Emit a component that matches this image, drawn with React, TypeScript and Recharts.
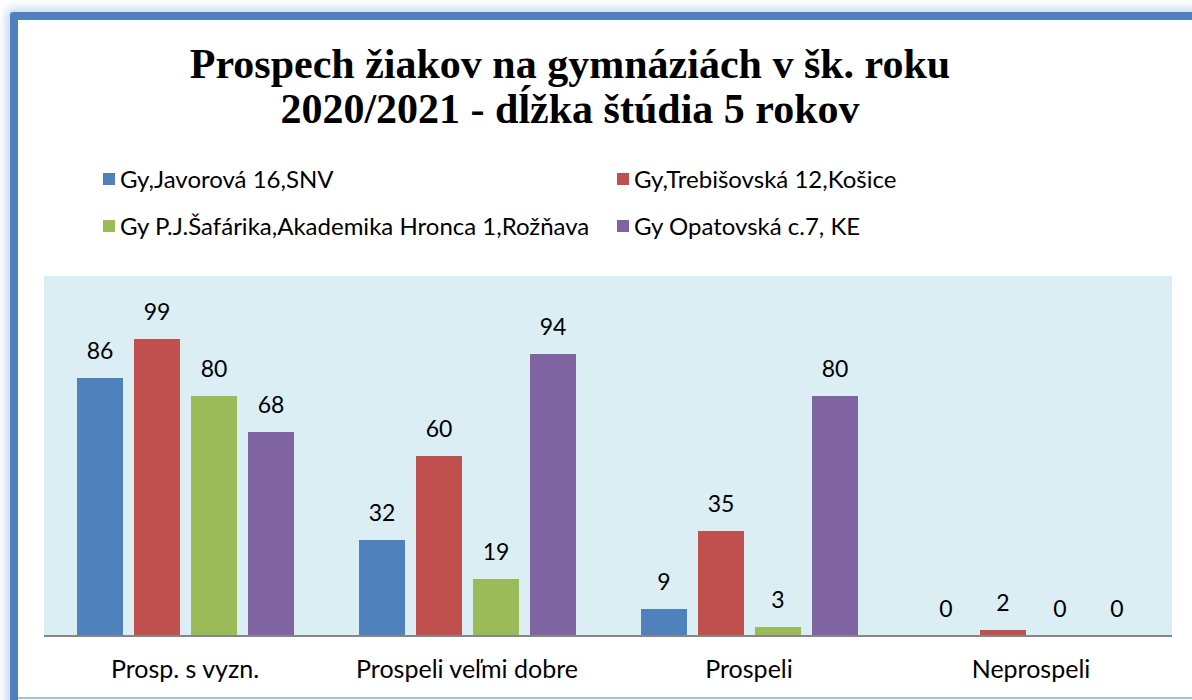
import { Bar, BarChart, LabelList, XAxis, YAxis } from "recharts";

const categories = ["Prosp. s vyzn.", "Prospeli veľmi dobre", "Prospeli", "Neprospeli"];

const javorova = [86, 32, 9, 0];
const trebisovska = [99, 60, 35, 2];
const safarika = [80, 19, 3, 0];
const opatovska = [68, 94, 80, 0];

const seriesNames = [
  "Gy,Javorová 16,SNV",
  "Gy,Trebišovská 12,Košice",
  "Gy P.J.Šafárika,Akademika Hronca 1,Rožňava",
  "Gy Opatovská c.7, KE",
];
const seriesColors = ["#4F81BD", "#C0504D", "#9BBB59", "#8064A2"];
const seriesKeys = ["javorova", "trebisovska", "safarika", "opatovska"];

const data = categories.map((name, i) => ({
  name,
  javorova: javorova[i],
  trebisovska: trebisovska[i],
  safarika: safarika[i],
  opatovska: opatovska[i],
}));

const FONT = "Lato, 'Open Sans', sans-serif";

// zero-height bars get no label otherwise, so give them a hair of height
const tinyForZero = (v: any) => (Number(v) === 0 ? 0.001 : 0);

const valueLabel = (props: any) => {
  const { x, y, width, value } = props;
  return (
    <text
      x={Number(x) + Number(width) / 2}
      y={Number(y) - 19}
      textAnchor="middle"
      fontFamily={FONT}
      fontSize={23}
      fill="#000"
    >
      {value}
    </text>
  );
};

export default function App() {
  return (
    <div style={{ position: "absolute", left: 0, top: 0, width: 1192, height: 700, overflow: "hidden", background: "#fff" }}>
      {/* frame */}
      <div
        style={{
          position: "absolute",
          left: 10,
          top: 12,
          width: 1220,
          height: 720,
          border: "8px solid #4F81BD",
          borderRadius: 3,
          boxShadow: "0 0 10px 4px #C6D9F1",
          boxSizing: "border-box",
        }}
      />
      <div style={{ position: "absolute", left: 18, right: 0, top: 697, height: 2, background: "#A7BFDE" }} />

      <div
        style={{
          position: "absolute",
          left: 0,
          width: 1140,
          top: 42,
          textAlign: "center",
          fontFamily: "'Liberation Serif', 'Times New Roman', serif",
          fontWeight: "bold",
          fontSize: 42,
          lineHeight: "45px",
          color: "#000",
        }}
      >
        Prospech žiakov na gymnáziách v šk. roku
        <br />
        2020/2021 - dĺžka štúdia 5 rokov
      </div>

      {seriesNames.map((n, i) => (
        <div
          key={n}
          style={{
            position: "absolute",
            left: i % 2 === 0 ? 103 : 617,
            top: i < 2 ? 164 : 211,
            display: "flex",
            alignItems: "center",
            fontFamily: FONT,
            fontSize: 24,
            color: "#000",
            whiteSpace: "nowrap",
          }}
        >
          <span style={{ display: "inline-block", width: 12, height: 12, background: seriesColors[i], marginRight: 5 }} />
          {n}
        </div>
      ))}

      <div style={{ position: "absolute", left: 0, top: 0 }}>
        <BarChart
          width={1192}
          height={700}
          data={data}
          margin={{ top: 276, right: 20, bottom: 0, left: 44 }}
          barCategoryGap={33}
          barGap={11}
        >
          <rect x={44} y={276} width={1128} height={360} fill="#DBEEF4" />
          <YAxis hide domain={[0, 120]} />
          <XAxis
            dataKey="name"
            height={64}
            tickLine={false}
            tickSize={0}
            tickMargin={24}
            axisLine={{ stroke: "#868686", strokeWidth: 2 }}
            tick={{ fontFamily: FONT, fontSize: 25, fill: "#000" }}
            interval={0}
          />
          {seriesKeys.map((k, i) => (
            <Bar
              key={k}
              dataKey={k}
              name={seriesNames[i]}
              fill={seriesColors[i]}
              minPointSize={tinyForZero}
              isAnimationActive={false}
            >
              <LabelList dataKey={k} content={valueLabel} />
            </Bar>
          ))}
        </BarChart>
      </div>
    </div>
  );
}
